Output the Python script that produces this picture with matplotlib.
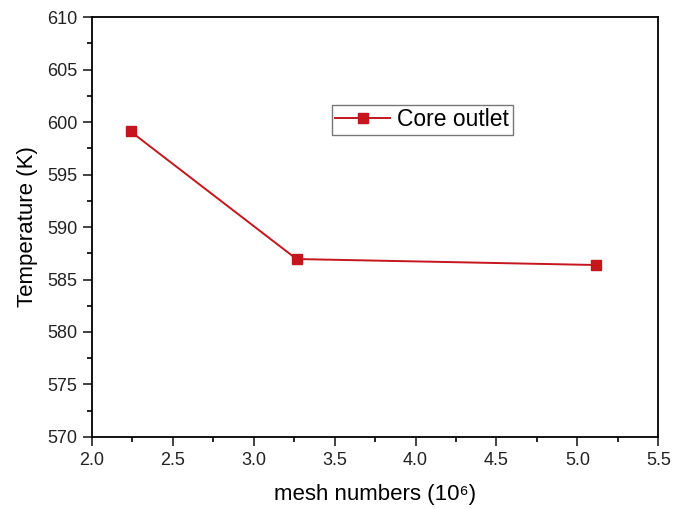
import numpy as np
import matplotlib.pyplot as plt
from matplotlib.ticker import MultipleLocator

# Data
mesh = [2.24, 3.265, 5.117]
temp = [599.1, 586.95, 586.38]

plt.rcParams['font.family'] = ['Liberation Sans', 'DejaVu Sans']

fig = plt.figure(figsize=(6.85, 5.09), dpi=100)
ax = fig.add_axes([0.134, 0.1415, 0.827, 0.825])

ax.plot(mesh, temp, color='#c4161c', marker='s', markersize=7, linewidth=1.4, label='Core outlet')

ax.set_xlim(2.0, 5.5)
ax.set_ylim(570, 610)
ax.xaxis.set_major_locator(MultipleLocator(0.5))
ax.xaxis.set_minor_locator(MultipleLocator(0.25))
ax.yaxis.set_major_locator(MultipleLocator(5))
ax.yaxis.set_minor_locator(MultipleLocator(2.5))
ax.tick_params(which='major', length=6.5, width=1.2, labelsize=13, colors='#222222', pad=4)
ax.tick_params(which='minor', length=3.5, width=1.2)
for s in ax.spines.values():
    s.set_linewidth(1.3)
ax.set_xticklabels(['%.1f' % v for v in ax.get_xticks()])

ax.set_xlabel('mesh numbers (10\u2076)', fontsize=16, labelpad=11)
ax.set_ylabel('Temperature (K)', fontsize=16, labelpad=6)

leg = ax.legend(loc='upper left', bbox_to_anchor=(0.4847, 0.7937), bbox_transform=fig.transFigure,
                fontsize=16.5, fancybox=False, edgecolor='#555555', handlelength=2.4,
                borderpad=0.15, handletextpad=0.3, borderaxespad=0)
leg.get_frame().set_linewidth(1.0)

fig.savefig('out.png', dpi=100)
